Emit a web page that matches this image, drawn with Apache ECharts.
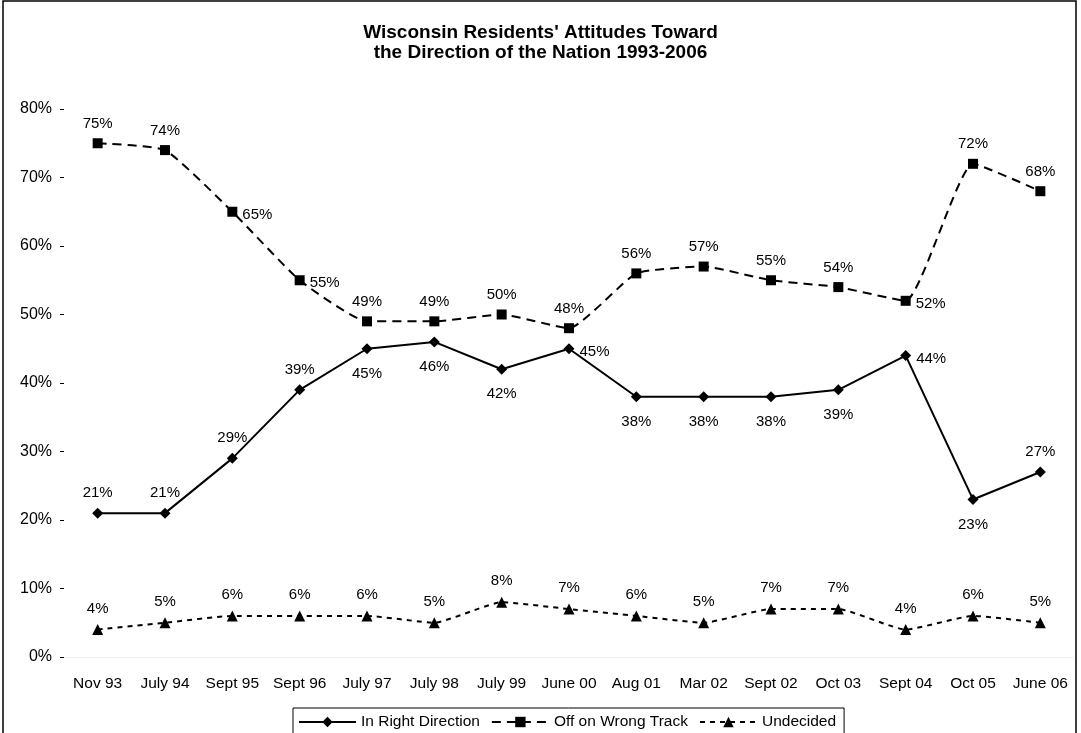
<!DOCTYPE html>
<html>
<head>
<meta charset="utf-8">
<script src="https://cdn.jsdelivr.net/npm/echarts@6/dist/echarts.min.js"></script>
<style>
  html, body { margin: 0; padding: 0; background: #fff; }
  #chart { width: 1081px; height: 733px; }
</style>
</head>
<body>
<div id="chart"></div>
<script>
const categories = ['Nov 93', 'July 94', 'Sept 95', 'Sept 96', 'July 97', 'July 98', 'July 99',
  'June 00', 'Aug 01', 'Mar 02', 'Sept 02', 'Oct 03', 'Sept 04', 'Oct 05', 'June 06']
const rightDirection = [21, 21, 29, 39, 45, 46, 42, 45, 38, 38, 38, 39, 44, 23, 27]
const wrongTrack = [75, 74, 65, 55, 49, 49, 50, 48, 56, 57, 55, 54, 52, 72, 68]
const undecided = [4, 5, 6, 6, 6, 5, 8, 7, 6, 5, 7, 7, 4, 6, 5]
// where each value label sits relative to its point
const rightLabelPos = ['top', 'top', 'top', 'top', 'bottom', 'bottom', 'bottom', 'right',
  'bottom', 'bottom', 'bottom', 'bottom', 'right', 'bottom', 'top']
const wrongLabelPos = ['top', 'top', 'right', 'right', 'top', 'top', 'top', 'top',
  'top', 'top', 'top', 'top', 'right', 'top', 'top']

const FONT = 'Liberation Sans, Arial, sans-serif'
const labelBase = { show: true, color: '#000', fontSize: 15, fontFamily: FONT, formatter: '{c}%' }

function withLabels(values, positions) {
  return values.map((v, i) => {
    const pos = positions[i]
    const dist = pos === 'bottom' ? 12 : (pos === 'right' ? 5 : 7)
    return {
      value: v,
      label: pos === 'right'
        ? { position: pos, distance: dist, offset: [0, 3] }
        : { position: pos, distance: dist }
    }
  })
}

const chart = echarts.init(document.getElementById('chart'), null, { renderer: 'canvas' })

const option = {
  animation: false,
  backgroundColor: '#fff',
  title: {
    text: "Wisconsin Residents' Attitudes Toward\nthe Direction of the Nation 1993-2006",
    left: 'center',
    top: 18,
    textStyle: { fontSize: 19, fontWeight: 'bold', color: '#000', fontFamily: FONT, lineHeight: 20 }
  },
  graphic: [{
    type: 'rect',
    silent: true,
    shape: { x: 3, y: 1, width: 1073, height: 780 },
    style: { fill: 'none', stroke: '#000', lineWidth: 1.5 }
  }],
  legend: {
    bottom: -13,
    left: 293,
    itemWidth: 57,
    itemHeight: 13,
    itemGap: 11,
    padding: [6, 8, 16, 5],
    borderColor: '#000',
    borderWidth: 1,
    textStyle: { fontSize: 15.5, color: '#000', fontFamily: FONT },
    data: ['In Right Direction', 'Off on Wrong Track', 'Undecided']
  },
  grid: { left: 64, right: 7, top: 109, bottom: 76 },
  xAxis: {
    type: 'category',
    data: categories,
    boundaryGap: true,
    axisLine: { show: true, lineStyle: { color: '#f2f2f2' } },
    axisTick: { show: false },
    axisLabel: { color: '#000', fontSize: 15.5, fontFamily: FONT, margin: 19, interval: 0 }
  },
  yAxis: {
    type: 'value',
    min: 0,
    max: 80,
    interval: 10,
    axisLine: { show: false },
    axisTick: { show: true, length: 4, lineStyle: { color: '#000' } },
    splitLine: { show: false },
    axisLabel: { color: '#000', fontSize: 16, fontFamily: FONT, margin: 12, formatter: '{value}%' }
  },
  series: [
    {
      name: 'In Right Direction',
      type: 'line',
      data: withLabels(rightDirection, rightLabelPos),
      symbol: 'diamond',
      symbolSize: 11,
      itemStyle: { color: '#000' },
      lineStyle: { color: '#000', width: 2 },
      label: labelBase
    },
    {
      name: 'Off on Wrong Track',
      type: 'line',
      data: withLabels(wrongTrack, wrongLabelPos),
      smooth: 0.15,
      symbol: 'rect',
      symbolSize: 10,
      itemStyle: { color: '#000' },
      lineStyle: { color: '#000', width: 2, type: [9, 6] },
      label: labelBase
    },
    {
      name: 'Undecided',
      type: 'line',
      data: undecided,
      smooth: 0.15,
      symbol: 'triangle',
      symbolSize: 11,
      itemStyle: { color: '#000' },
      lineStyle: { color: '#000', width: 2, type: [5, 5] },
      label: Object.assign({}, labelBase, { position: 'top', distance: 8 })
    }
  ]
}

chart.setOption(option)
</script>
</body>
</html>
